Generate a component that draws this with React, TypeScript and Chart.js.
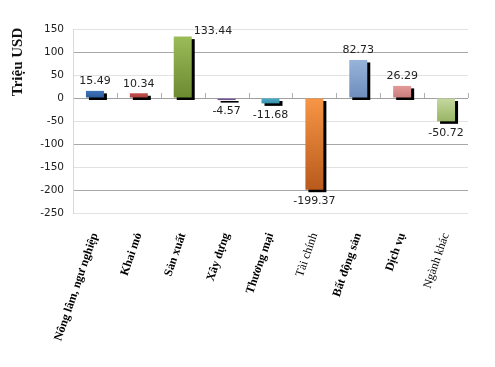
import React, { useEffect, useRef } from "react";
import { Chart, registerables } from "chart.js";

Chart.register(...registerables);

const categories = [
  "Nông lâm, ngư nghiệp",
  "Khai mỏ",
  "Sản xuất",
  "Xây dựng",
  "Thương mại",
  "Tài chính",
  "Bất động sản",
  "Dịch vụ",
  "Ngành khác",
];
const values = [15.49, 10.34, 133.44, -4.57, -11.68, -199.37, 82.73, 26.29, -50.72];
const labelTexts = ["15.49", "10.34", "133.44", "-4.57", "-11.68", "-199.37", "82.73", "26.29", "-50.72"];
const boldLabel = [true, true, true, true, true, false, true, true, false];
const topColors = ["#3F74BC", "#C8524E", "#9BBB59", "#8468A8", "#4FB0CA", "#F79646", "#97B4DA", "#E29A98", "#C6D9A0"];
const bottomColors = ["#2B5A98", "#A53F3B", "#6C8A30", "#654C88", "#3690AA", "#B85A1C", "#6E8DBC", "#C67C7A", "#98B464"];
const yMin = -250;
const yMax = 150;
const yStep = 50;
const yTitle = "Triệu USD";

const shadowPlugin = {
  id: "shadowPlugin",
  beforeDatasetsDraw(chart: any) {
    const c = chart.ctx;
    const meta = chart.getDatasetMeta(0);
    c.save();
    c.fillStyle = "#000";
    meta.data.forEach((el: any) => {
      const { x, y, base, width } = el.getProps(["x", "y", "base", "width"], true);
      const top = Math.min(y, base);
      const bot = Math.max(y, base);
      c.fillRect(x - width / 2 + 3, top + 2.5, width, bot - top);
    });
    c.restore();
  },
  afterDatasetsDraw(chart: any) {
    const c = chart.ctx;
    const area = chart.chartArea;
    const yS = chart.scales.y;
    const zero = yS.getPixelForValue(0);
    const n = categories.length;
    const cw = (area.right - area.left) / n;
    c.save();
    c.strokeStyle = "#b0b0b0";
    c.lineWidth = 1;
    for (let i = 1; i <= n; i++) {
      const x = Math.round(area.left + i * cw) + 0.5;
      c.beginPath();
      c.moveTo(x, zero - 5);
      c.lineTo(x, zero);
      c.stroke();
    }
    // data labels
    const meta = chart.getDatasetMeta(0);
    c.font = "11px 'DejaVu Sans'";
    c.fillStyle = "#222";
    meta.data.forEach((el: any, i: number) => {
      const { x, y, base, width } = el.getProps(["x", "y", "base", "width"], true);
      const v = values[i];
      if (v >= 0) {
        if (y - 16 < area.top) {
          c.textAlign = "left";
          c.textBaseline = "middle";
          c.fillText(labelTexts[i], x + width / 2 + 2, y - 5);
        } else {
          c.textAlign = "center";
          c.textBaseline = "bottom";
          c.fillText(labelTexts[i], x, y - 4);
        }
      } else {
        c.textAlign = "center";
        c.textBaseline = "top";
        c.fillText(labelTexts[i], x, Math.max(y, base) + 6);
      }
    });
    // y title
    c.save();
    c.translate(18, 62);
    c.rotate(-Math.PI / 2);
    c.font = "bold 15px 'Liberation Serif'";
    c.fillStyle = "#111";
    c.textAlign = "center";
    c.textBaseline = "middle";
    c.fillText(yTitle, 0, 0);
    c.restore();
    c.restore();
  },
};

export default function App() {
  const ref = useRef<HTMLCanvasElement>(null);
  useEffect(() => {
    document.body.style.margin = "0";
    const canvas = ref.current!;
    const chart = new Chart(canvas, {
      type: "bar",
      data: {
        labels: categories,
        datasets: [
          {
            data: values,
            borderWidth: 0,
            backgroundColor: (ctx: any) => {
              const i = ctx.dataIndex;
              const chart = ctx.chart;
              const yS = chart.scales && chart.scales.y;
              if (!yS || i === undefined) return topColors[i ?? 0];
              const v = values[i];
              const p0 = yS.getPixelForValue(0);
              const p1 = yS.getPixelForValue(v);
              const top = Math.min(p0, p1);
              const bot = Math.max(p0, p1);
              if (!isFinite(top) || bot - top < 1) return topColors[i];
              const g = chart.ctx.createLinearGradient(0, top, 0, bot);
              g.addColorStop(0, topColors[i]);
              g.addColorStop(1, bottomColors[i]);
              return g;
            },
            barPercentage: 0.41,
            categoryPercentage: 1,
          },
        ],
      },
      options: {
        responsive: false,
        animation: false,
        layout: { padding: { top: 29, right: 27, left: 0, bottom: 0 } },
        plugins: { legend: { display: false }, tooltip: { enabled: false } },
        scales: {
          x: {
            grid: { display: false, drawTicks: false },
            border: { display: false },
            ticks: {
              autoSkip: false,
              minRotation: 71,
              maxRotation: 71,
              padding: 18,
              color: "#000",
              font: (ctx: any) => ({
                family: "'Liberation Serif'",
                size: 12,
                weight: boldLabel[ctx.index] ? "bold" : "normal",
              }),
            },
            afterFit: (s: any) => {
              s.height = 367 - 213;
            },
          },
          y: {
            min: yMin,
            max: yMax,
            ticks: {
              stepSize: yStep,
              padding: 9,
              color: "#222",
              font: { family: "'DejaVu Sans'", size: 10.5 },
            },
            grid: {
              drawTicks: false,
              color: (ctx: any) =>
                ctx.tick && ctx.tick.value % 100 === 0 && ctx.tick.value !== 0 ? "#a8a8a8" : ctx.tick && ctx.tick.value === 0 ? "#a0a0a0" : "#e2e2e2",
            },
            border: { display: true, color: "#d9d9d9" },
            afterFit: (s: any) => {
              s.width = 73;
            },
          },
        },
      },
      plugins: [shadowPlugin],
    } as any);
    return () => chart.destroy();
  }, []);
  return <canvas ref={ref} width={495} height={367} style={{ display: "block" }} />;
}
